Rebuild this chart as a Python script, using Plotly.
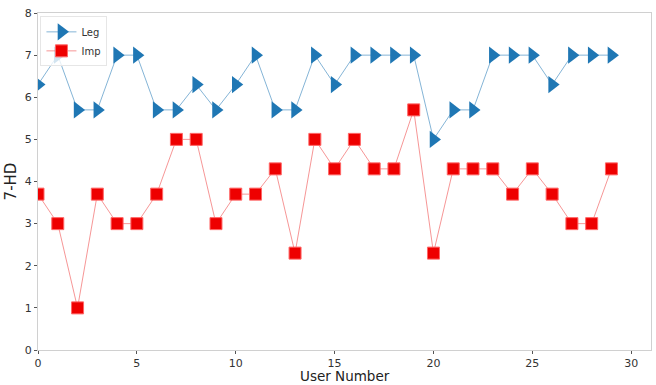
import plotly.graph_objects as go

users = list(range(30))
leg = [6.3, 7, 5.7, 5.7, 7, 7, 5.7, 5.7, 6.3, 5.7, 6.3, 7, 5.7, 5.7, 7, 6.3, 7, 7, 7, 7,
       5, 5.7, 5.7, 7, 7, 7, 6.3, 7, 7, 7]
imp = [3.7, 3, 1, 3.7, 3, 3, 3.7, 5, 5, 3, 3.7, 3.7, 4.3, 2.3, 5, 4.3, 5, 4.3, 4.3, 5.7,
       2.3, 4.3, 4.3, 4.3, 3.7, 4.3, 3.7, 3, 3, 4.3]
xticks = [0, 5, 10, 15, 20, 25, 30]
yticks = [0, 1, 2, 3, 4, 5, 6, 7, 8]

fig = go.Figure()
fig.add_trace(go.Scatter(x=users, y=leg, name="Leg", mode="lines+markers",
                         line=dict(color="rgba(31,119,180,0.55)", width=1),
                         marker=dict(symbol="triangle-right", size=15, color="#1f77b4")))
fig.add_trace(go.Scatter(x=users, y=imp, name="Imp", mode="lines+markers",
                         line=dict(color="rgba(240,80,80,0.6)", width=1),
                         marker=dict(symbol="square", size=12, color="#ee0000",
                                     line=dict(color="#ff6666", width=1))))

axis_common = dict(showgrid=False, zeroline=False, showline=True, mirror=True,
                   linecolor="#d0d0d0", linewidth=1, ticks="outside", ticklen=3,
                   tickcolor="#555", automargin=False,
                   tickfont=dict(family="DejaVu Sans", size=11, color="#333"))
fig.update_xaxes(range=[0, 31], tickvals=xticks, **axis_common)
fig.update_yaxes(range=[0, 8], tickvals=yticks,
                 title=dict(text="7-HD", font=dict(family="DejaVu Sans", size=15, color="#222"),
                            standoff=4), **axis_common)
fig.add_annotation(text="User Number", x=0.5, y=0, xref="paper", yref="paper",
                   xanchor="center", yanchor="top", yshift=-17, showarrow=False, borderpad=0,
                   font=dict(family="DejaVu Sans", size=13.5, color="#222"))
fig.update_layout(width=656, height=385, margin=dict(l=38, r=5, t=13, b=35),
                  plot_bgcolor="white", paper_bgcolor="white",
                  legend=dict(x=0.004, y=0.99, xanchor="left", yanchor="top",
                              bgcolor="rgba(255,255,255,0.8)", bordercolor="#e6e6e6", borderwidth=1,
                              font=dict(family="DejaVu Sans", size=10, color="#333"),
                              tracegroupgap=0))
fig.write_html("out.html", post_script="document.body.style.margin='0';",
               config={"displayModeBar": False})
